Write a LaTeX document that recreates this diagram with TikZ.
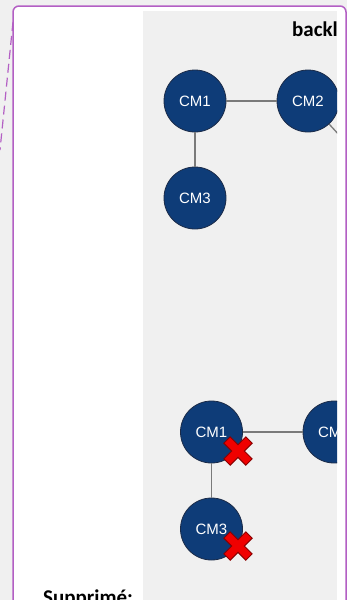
\documentclass[tikz,border=0pt]{standalone}
\usepackage{fontspec}
\newfontfamily\arialfont{Liberation Sans}
\newfontfamily\calfont{Carlito}
\definecolor{bggray}{HTML}{F0F0F0}
\definecolor{cmblue}{HTML}{0E3C78}
\definecolor{cmedge}{HTML}{1B2B48}
\definecolor{linkgray}{HTML}{7A7A7A}
\definecolor{framepurple}{HTML}{B35FC4}
\definecolor{crossred}{HTML}{F00000}
\definecolor{crossedge}{HTML}{8A0000}
\tikzset{
  cmnode/.style={circle, fill=cmblue, draw=cmedge, line width=0.8pt, minimum size=62pt, inner sep=0pt, text=white, font=\arialfont\fontsize{15}{15}\selectfont},
  link/.style={draw=linkgray, line width=1.3pt},
  frameline/.style={draw=framepurple, line width=1.5pt},
  redx/.pic={
    \filldraw[fill=crossred, draw=crossedge, line width=0.9pt, rotate=45]
      (4.5,15.5) -- (4.5,4.5) -- (15.5,4.5) -- (15.5,-4.5) -- (4.5,-4.5) -- (4.5,-15.5)
      -- (-4.5,-15.5) -- (-4.5,-4.5) -- (-15.5,-4.5) -- (-15.5,4.5) -- (-4.5,4.5) -- (-4.5,15.5) -- cycle;
  }
}
\begin{document}
\begin{tikzpicture}[x=1pt,y=-1pt]
  \useasboundingbox (0,0) rectangle (347,600);
  \clip (0,0) rectangle (347,600);
  \fill[bggray] (0,0) rectangle (347,600);
  % comment balloon
  \draw[frameline, fill=white, rounded corners=6pt] (13,640) -- (13,6) -- (346,6) -- (346,640);
  \coordinate (anchor) at (13,22);
  \coordinate (tail) at (0,150);
  \draw[frameline, line width=1.2pt, dash pattern=on 9pt off 5pt] (anchor) -- (tail);
  \fill[bggray] (143,11) rectangle (337,640);
  \node[anchor=base west, font=\calfont\bfseries\fontsize{21}{21}\selectfont, inner sep=0pt] at (43,604.5) (supp) {Supprimé:};
  \begin{scope}
    \clip (143,11) rectangle (337,640);
    \node[anchor=base west, font=\calfont\bfseries\fontsize{21}{21}\selectfont, inner sep=0pt] at (292,36) (title) {backl};
    % before
    \node[cmnode] at (195,101) (cm1) {CM1};
    \node[cmnode] at (308,101) (cm2) {CM2};
    \node[cmnode] at (195,198) (cm3) {CM3};
    \coordinate (cm4) at (362,160);
    \path[link] (cm1) edge (cm2);
    \path[link] (cm1) edge (cm3);
    \path[link] (cm2) edge (cm4);
    % after
    \node[cmnode] at (211.5,432) (cm1b) {CM1};
    \node[cmnode] at (334,432) (cm2b) {CM2};
    \node[cmnode] at (211.5,529) (cm3b) {CM3};
    \path[link] (cm1b) edge (cm2b);
    \path[link] (cm1b) edge (cm3b);
    \pic (x1) at (238,451) {redx};
    \pic (x3) at (238,546) {redx};
  \end{scope}
\end{tikzpicture}
\end{document}
